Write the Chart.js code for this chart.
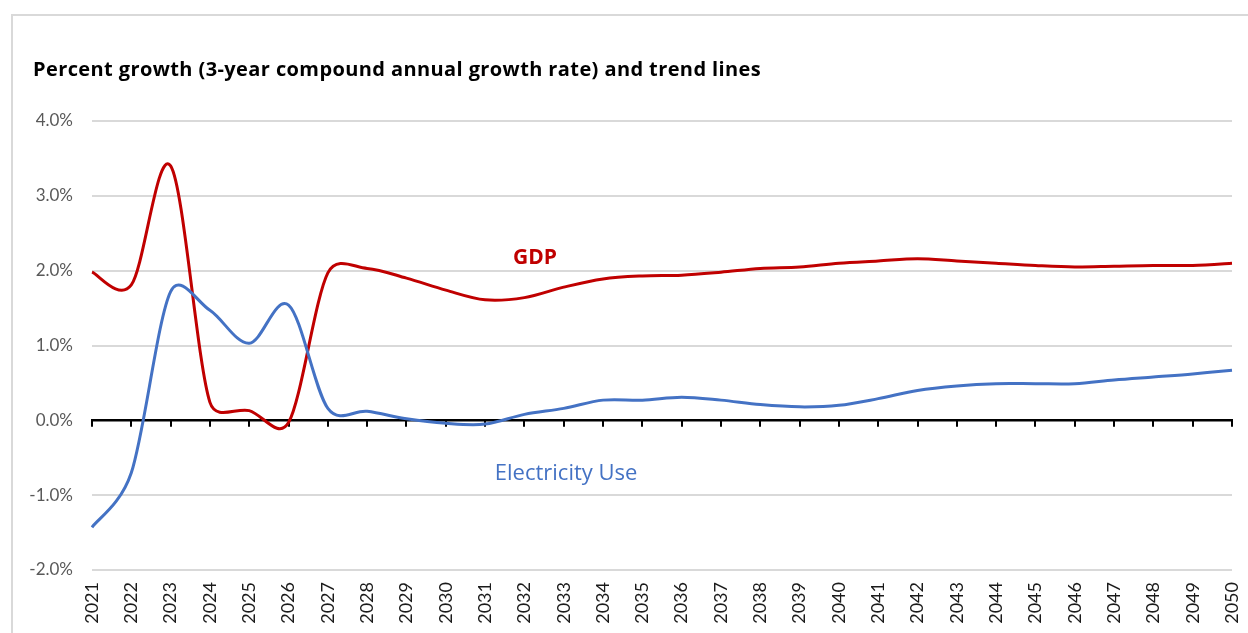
<!DOCTYPE html>
<html>
<head>
<meta charset="utf-8">
<script src="https://cdn.jsdelivr.net/npm/chart.js@4/dist/chart.umd.min.js"></script>
<style>
  html, body { margin: 0; padding: 0; background: #fff; overflow: hidden; }
  #frame { position: absolute; left: 11px; top: 14px; width: 1400px; height: 800px;
           border-top: 2px solid #d9d9d9; border-left: 2px solid #d9d9d9; }
  #wrap { position: absolute; left: 0; top: 0; width: 1248px; height: 633px; }
</style>
</head>
<body>
<div id="frame"></div>
<div id="wrap"><canvas id="c" width="1248" height="633"></canvas></div>
<script>
const years = ["2021","2022","2023","2024","2025","2026","2027","2028","2029","2030",
               "2031","2032","2033","2034","2035","2036","2037","2038","2039","2040",
               "2041","2042","2043","2044","2045","2046","2047","2048","2049","2050"];
const gdpGrowth = [1.98, 1.81, 3.40, 0.24, 0.13, -0.03, 1.97, 2.03, 1.90, 1.74,
                   1.61, 1.64, 1.78, 1.89, 1.93, 1.94, 1.98, 2.03, 2.05, 2.10,
                   2.13, 2.16, 2.13, 2.10, 2.07, 2.05, 2.06, 2.07, 2.07, 2.10];
const electricityGrowth = [-1.43, -0.70, 1.72, 1.47, 1.03, 1.54, 0.16, 0.12, 0.02, -0.04,
                           -0.05, 0.08, 0.16, 0.27, 0.27, 0.31, 0.27, 0.21, 0.18, 0.20,
                           0.29, 0.40, 0.46, 0.49, 0.49, 0.49, 0.54, 0.58, 0.62, 0.67];
const yTicks = [-2, -1, 0, 1, 2, 3, 4];
const titleText = "Percent growth (3-year compound annual growth rate) and trend lines";
const seriesLabels = { gdp: "GDP", elec: "Electricity Use" };
const labelAnchors = { gdp: { x: 11.27, y: 2.17 }, elec: { x: 12.06, y: -0.71 } };

const TICK_FONT = "Lato, 'Open Sans', sans-serif";
const TEXT_FONT = "'Open Sans', Lato, sans-serif";
const RED = "#C00000", BLUE = "#4472C4";

// Excel-like smoothing: Catmull-Rom tangents, each side limited to half of its segment
const smoothing = {
  id: "smoothing",
  beforeDatasetDraw(chart, args) {
    const meta = args.meta;
    const line = meta.dataset;
    if (!line) return;
    line.updateControlPoints(chart.chartArea, meta.axis || "x");
    const pts = meta.data;
    const n = pts.length;
    const K = 0.5;
    for (let i = 0; i < n; i++) {
      const p = pts[i];
      const prev = pts[Math.max(0, i - 1)];
      const next = pts[Math.min(n - 1, i + 1)];
      const dx = (next.x - prev.x) / 6, dy = (next.y - prev.y) / 6;
      const len = Math.hypot(dx, dy) || 1;
      const lIn = Math.hypot(p.x - prev.x, p.y - prev.y);
      const lOut = Math.hypot(next.x - p.x, next.y - p.y);
      const sIn = Math.min(1, (K * lIn) / len);
      const sOut = Math.min(1, (K * lOut) / len);
      p.cp1x = p.x - dx * sIn; p.cp1y = p.y - dy * sIn;
      p.cp2x = p.x + dx * sOut; p.cp2y = p.y + dy * sOut;
    }
    line._path = undefined;
  }
};

const overlay = {
  id: "overlay",
  beforeDatasetsDraw(chart) {
    const { ctx, scales: { x, y } } = chart;
    const y0 = y.getPixelForValue(0);
    ctx.save();
    ctx.strokeStyle = "#000";
    ctx.lineWidth = 2.5;
    ctx.beginPath();
    ctx.moveTo(x.getPixelForValue(0) - 1, y0);
    ctx.lineTo(x.getPixelForValue(years.length - 1) + 1, y0);
    ctx.stroke();
    ctx.lineWidth = 2;
    ctx.beginPath();
    for (let i = 0; i < years.length; i++) {
      const px = Math.round(x.getPixelForValue(i));
      ctx.moveTo(px, y0);
      ctx.lineTo(px, y0 + 6.5);
    }
    ctx.stroke();
    ctx.restore();
  },
  afterDatasetsDraw(chart) {
    const { ctx, scales: { x, y } } = chart;
    ctx.save();
    ctx.textBaseline = "alphabetic";
    ctx.fillStyle = "#000";
    ctx.textAlign = "left";
    ctx.font = "bold 20px " + TEXT_FONT;
    try { ctx.letterSpacing = "0.4px"; } catch (e) {}
    ctx.fillText(titleText, 33, 76);
    try { ctx.letterSpacing = "0px"; } catch (e) {}

    ctx.textAlign = "center";
    ctx.textBaseline = "middle";
    ctx.font = "bold 21px " + TEXT_FONT;
    ctx.fillStyle = RED;
    ctx.fillText(seriesLabels.gdp, x.getPixelForValue(labelAnchors.gdp.x), y.getPixelForValue(labelAnchors.gdp.y));
    ctx.font = "22px " + TEXT_FONT;
    ctx.fillStyle = BLUE;
    ctx.fillText(seriesLabels.elec, x.getPixelForValue(labelAnchors.elec.x), y.getPixelForValue(labelAnchors.elec.y));
    ctx.restore();
  }
};

new Chart(document.getElementById("c"), {
  type: "line",
  data: {
    labels: years,
    datasets: [
      { label: seriesLabels.elec, data: electricityGrowth, borderColor: BLUE, borderWidth: 3,
        pointRadius: 0, tension: 0.4, fill: false },
      { label: seriesLabels.gdp, data: gdpGrowth, borderColor: RED, borderWidth: 3,
        pointRadius: 0, tension: 0.4, fill: false }
    ]
  },
  options: {
    responsive: false,
    animation: false,
    devicePixelRatio: 1,
    layout: { padding: { top: 121, right: 16, bottom: 0, left: 0 } },
    plugins: { legend: { display: false }, tooltip: { enabled: false }, title: { display: false } },
    scales: {
      x: {
        type: "category",
        offset: false,
        grid: { display: false, drawTicks: false },
        border: { display: false },
        ticks: {
          autoSkip: false, minRotation: 90, maxRotation: 90, padding: 12,
          color: "#1a1a1a", font: { family: TICK_FONT, size: 18 }
        },
        afterFit(s) { s.height = 63; s.paddingLeft = 0; s.paddingRight = 0; }
      },
      y: {
        min: -2, max: 4,
        afterBuildTicks(s) { s.ticks = yTicks.map(v => ({ value: v })); },
        grid: {
          drawTicks: false, lineWidth: 2,
          color: c => (c.tick && c.tick.value === 0) ? "rgba(0,0,0,0)" : "#d9d9d9"
        },
        border: { display: false },
        ticks: {
          padding: 19, color: "#595959", font: { family: TICK_FONT, size: 17 },
          callback: v => v.toFixed(1) + "%"
        },
        afterFit(s) { s.width = 92; s.paddingTop = 0; s.paddingBottom = 0; }
      }
    }
  },
  plugins: [smoothing, overlay]
});
</script>
</body>
</html>
